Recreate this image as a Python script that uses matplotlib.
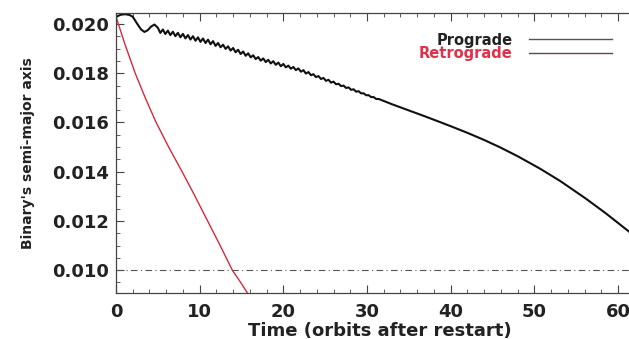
import matplotlib.pyplot as plt
from matplotlib.lines import Line2D
from matplotlib.ticker import MultipleLocator, FormatStrFormatter

plt.rcParams.update({
    "font.family": "DejaVu Sans", "font.weight": "bold",
    "axes.labelweight": "bold",
    "axes.linewidth": 0.9, "axes.edgecolor": "#444444",
})

# prograde run: early transient, then the oscillating decay, then the smooth tail
t_pro_early = [0.0, 0.3, 0.6, 1.1, 1.6, 2.0, 2.5, 3.0, 3.4, 3.8, 4.2, 4.6, 5.0]
a_pro_early = [0.02028, 0.02034, 0.02038, 0.02040, 0.02037, 0.02030, 0.02003,
               0.01978, 0.01968, 0.01975, 0.01990, 0.01998, 0.01985]

t_pro_osc = [5.3, 5.6, 5.9, 6.2, 6.5, 6.8, 7.1, 7.4, 7.7, 8.0, 8.3, 8.6, 8.9, 9.2,
             9.5, 9.8, 10.1, 10.4, 10.7, 11.0, 11.3, 11.6, 11.9, 12.2, 12.5, 12.8,
             13.1, 13.4, 13.7, 14.0, 14.3, 14.6, 14.9, 15.2, 15.5, 15.8, 16.1, 16.4,
             16.7, 17.0, 17.3, 17.6, 17.9, 18.2, 18.5, 18.8, 19.1, 19.4, 19.7, 20.0,
             20.3, 20.6, 20.9, 21.2, 21.5, 21.8, 22.1, 22.4, 22.7, 23.0, 23.3, 23.6,
             23.9, 24.2, 24.5, 24.8, 25.1, 25.4, 25.7, 26.0, 26.3, 26.6, 26.9, 27.2,
             27.5, 27.8, 28.1, 28.4, 28.7, 29.0, 29.3, 29.6, 29.9, 30.2, 30.5, 30.8,
             31.1, 31.4]
a_pro_osc = [0.019640, 0.019778, 0.019596, 0.019733, 0.019551, 0.019689, 0.019507,
             0.019644, 0.019462, 0.019600, 0.019417, 0.019553, 0.019370, 0.019506,
             0.019323, 0.019460, 0.019276, 0.019413, 0.019229, 0.019366, 0.019179,
             0.019306, 0.019112, 0.019229, 0.019056, 0.019162, 0.018989, 0.019096,
             0.018922, 0.019028, 0.018852, 0.018956, 0.018781, 0.018885, 0.018709,
             0.018813, 0.018647, 0.018732, 0.018576, 0.018660, 0.018512, 0.018604,
             0.018455, 0.018547, 0.018399, 0.018491, 0.018343, 0.018435, 0.018287,
             0.018378, 0.018240, 0.018312, 0.018184, 0.018256, 0.018128, 0.018199,
             0.018064, 0.018126, 0.017988, 0.018049, 0.017921, 0.017962, 0.017844,
             0.017886, 0.017768, 0.017810, 0.017693, 0.017735, 0.017618, 0.017660,
             0.017553, 0.017575, 0.017478, 0.017500, 0.017403, 0.017425, 0.017327,
             0.017349, 0.017251, 0.017272, 0.017184, 0.017186, 0.017107, 0.017109,
             0.017031, 0.017032, 0.016954, 0.016956]

t_pro_tail = [33.0, 35.0, 37.0, 38.7, 40.0, 42.0, 44.0, 45.9, 48.0, 50.7, 53.1,
              56.1, 58.5, 61.3, 62.0]
a_pro_tail = [0.01674, 0.01649, 0.01624, 0.01602, 0.01585, 0.01558, 0.01529,
              0.01499, 0.01463, 0.01412, 0.01362, 0.01292, 0.01232, 0.01157, 0.01138]

# retrograde run
t_retro = [0.0, 1.0, 2.3, 3.5, 4.8, 6.3, 7.9, 9.3, 10.8, 12.3, 13.9, 15.0, 15.7, 16.2]
a_retro = [0.02030, 0.01925, 0.01800, 0.01700, 0.01600, 0.01500, 0.01400, 0.01310,
           0.01210, 0.01110, 0.01000, 0.00945, 0.00907, 0.00885]

a_threshold = 0.010

t_pro = t_pro_early + t_pro_osc + t_pro_tail
a_pro = a_pro_early + a_pro_osc + a_pro_tail

fig = plt.figure(figsize=(6.29, 3.39), dpi=100)
ax = fig.add_axes([0.1844, 0.1357, 0.8203, 0.826])

ax.plot(t_pro, a_pro, color="#111111", lw=1.5)
ax.plot(t_retro, a_retro, color="#d42a3c", lw=1.0)
ax.axhline(a_threshold, color="#555555", lw=0.8, ls=(0, (6, 3, 1, 3)))

ax.set_xlim(0, 61.67)
ax.set_ylim(0.00907, 0.02045)
ax.xaxis.set_major_locator(MultipleLocator(10))
ax.xaxis.set_minor_locator(MultipleLocator(2))
ax.yaxis.set_major_locator(MultipleLocator(0.002))
ax.yaxis.set_minor_locator(MultipleLocator(0.0005))
ax.yaxis.set_major_formatter(FormatStrFormatter("%.3f"))
ax.tick_params(which="both", direction="in", top=True, right=False,
               colors="#444444", labelcolor="#222222", labelsize=13)
ax.tick_params(axis="x", which="major", length=6, pad=7)
ax.tick_params(axis="y", which="major", length=6, pad=5)
ax.tick_params(which="minor", length=3)
ax.spines["right"].set_visible(False)

ax.set_xlabel("Time (orbits after restart)", fontsize=13, color="#222222", labelpad=1)
ax.xaxis.label.set_x(0.512)
ax.set_ylabel("Binary's semi-major axis", fontsize=10, color="#222222", labelpad=12)

handles = [Line2D([], [], color="#555555", lw=1.0),
           Line2D([], [], color="#5a4a4c", lw=1.0)]
ax.legend(handles, ["Prograde", "Retrograde"], loc="upper right",
          bbox_to_anchor=(0.975, 0.956), frameon=False, markerfirst=False,
          prop={"size": 10.5, "weight": "bold"}, labelcolor=["#222222", "#e0304a"],
          handlelength=5.7, handletextpad=1.1, labelspacing=-0.08, borderpad=0)

fig.savefig("out.png", dpi=100)
